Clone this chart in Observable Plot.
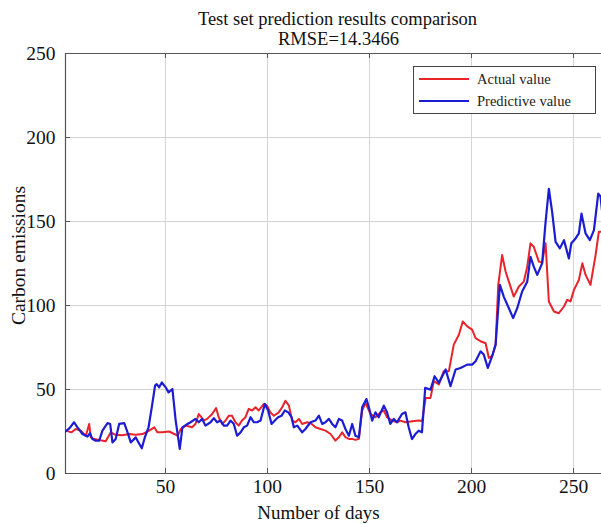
<!DOCTYPE html>
<html>
<head>
<meta charset="utf-8">
<script src="https://cdn.jsdelivr.net/npm/d3@7"></script>
<script src="https://cdn.jsdelivr.net/npm/@observablehq/plot@0.6"></script>
<style>
  html, body { margin: 0; padding: 0; background: #fff; }
  #wrap { position: relative; width: 601px; height: 524px; overflow: hidden; }
  #legend { position: absolute; left: 413px; top: 66px; width: 181px; height: 46px;
    border: 1px solid #444; background: #fff; font-family: "Liberation Serif", serif; font-size: 14.5px; color: #222; }
  .row { position: absolute; left: 5px; height: 18px; display: flex; align-items: center; }
  .sw { width: 50px; height: 0; border-top: 2px solid; margin-right: 8px; }
</style>
</head>
<body>
<div id="wrap"></div>
<script>
const chartTitle = "Test set prediction results comparison";
const chartSubtitle = "RMSE=14.3466";
const xLabel = "Number of days";
const yLabel = "Carbon emissions";
const seriesNames = ["Actual value", "Predictive value"];
const xTicks = [50, 100, 150, 200, 250];
const yTicks = [0, 50, 100, 150, 200, 250];

// Actual value: [day, value]
const actual = [[1,25.5],[4,24.5],[6,26.5],[8.5,25.5],[11,22.5],[12.6,29.5],[13.4,21.5],[15,20.5],[17.5,20],[20.7,19.2],[23.2,24.5],[25.6,23],[28.9,22.8],[32.2,23.5],[35.4,23],[38.7,23.5],[42,25.5],[44.5,27.5],[46,24.5],[48.5,24.5],[51.8,25],[54.3,23.5],[56,22.5],[57.5,26.5],[60,28.5],[63,27.5],[64.7,29.5],[66.3,35.4],[67.6,33.5],[68.7,31.5],[70.4,32.5],[72.9,35.4],[74.8,39],[76.1,33.5],[77.8,29.5],[79.4,31.5],[81,34.4],[82.6,34.4],[84.3,30.5],[85.9,28.5],[87.5,31.5],[89.2,33.5],[90.8,38.5],[92.5,37.5],[94.1,39.4],[95.7,37.5],[98.2,41.4],[99.8,40.4],[101.4,36.4],[103.1,34.4],[105.5,36.4],[107.2,39.4],[108.8,43.3],[110.5,40.4],[112.1,31.5],[113.7,30.5],[115.4,32.5],[117,29.5],[119.4,30.5],[121.1,30],[123.5,27.5],[126,26.5],[128.4,25.5],[130.9,23.5],[133.3,19.6],[135,21.6],[136.6,24.5],[138.2,21.6],[139.9,20.6],[141.5,20.6],[143.1,20],[144.8,20.6],[146.4,37.5],[148,42],[150.5,35.4],[152.9,33.5],[155.3,36.4],[157,37.5],[158.6,33.5],[161.1,31.5],[163.5,30.5],[165.1,31.5],[167.6,30.5],[170.1,31],[174,31.5],[175.8,31.2],[177.5,45],[179.9,45],[181.5,55],[184,53],[186.4,60.9],[188.9,60.9],[191.3,76.7],[193.8,82.6],[195.7,90.5],[197.9,87.6],[200.3,85.6],[202,80.6],[204.4,78.7],[206.9,77.5],[208.5,68.8],[210.1,69.8],[211.8,76.7],[213.1,112.3],[215,130],[216.7,120.2],[218.3,114.2],[220.7,105.3],[223.2,111.3],[225.6,114.2],[227.3,123.1],[228.9,137],[230.5,135],[233,126.1],[234.6,125.5],[236.3,137],[237.9,102.4],[240.4,96.4],[242.8,95.4],[245.3,99.4],[246.9,103.4],[248.5,102.4],[250.2,109.3],[252.6,115.2],[254.3,125.1],[255.9,118.2],[258.3,112.3],[260.8,130],[262.4,143.9],[264,144]];

// Predictive value: [day, value]
const predictive = [[1,25],[3,27],[5.2,30.5],[6.9,27.5],[9.3,23.5],[11.8,22],[13,24],[14.2,20.5],[15.8,19.5],[17.5,19.5],[19.1,25.5],[21.6,30],[22.9,29.5],[24,18.5],[25.6,20.5],[27.3,29.5],[29.8,30],[31.4,24.5],[33,18.5],[35.4,21.5],[36.3,19.5],[38.4,15],[40,22],[41.7,27.5],[43.3,39.5],[44.9,52.3],[45.7,53.2],[46.9,51.3],[48.2,54.2],[50.1,51.3],[51.5,48.3],[53.4,50.3],[55,31.5],[57,14.7],[58.3,27.5],[60.8,29.5],[62.3,30.5],[64.7,32.5],[66.3,30.5],[68,32.5],[69.6,28.5],[72.1,30.5],[73.7,33],[75.3,30.5],[77,31.5],[78.6,28.5],[80.2,28.5],[81.9,31.5],[83.5,29.5],[85.1,22.5],[86.8,24.5],[88.4,27.5],[90,28.5],[91.7,33.5],[93.3,30.5],[94.9,30.5],[96.6,31.5],[98.7,41.4],[100.3,37.5],[102,29.5],[103.6,31.5],[105.2,33.5],[106.9,34.4],[108.5,37.5],[110.2,36.4],[111.8,33.5],[112.9,27.5],[114.6,28.5],[117,24.5],[118.6,26.5],[121.1,30.5],[123.5,31.5],[125.2,34.4],[126.8,29.5],[128.4,30.5],[130.1,32.5],[131.7,29.5],[133.3,27.5],[135,32.5],[136.6,31.5],[138.2,26.5],[139.9,22.5],[141.5,29.5],[143.1,22.5],[144.8,21.6],[146.4,39.4],[148.5,44.3],[149.7,39.4],[151.3,31.5],[152.9,36.4],[154.5,33.5],[157,40.4],[158.6,36.4],[160.2,29.5],[161.9,32.5],[163.5,30.5],[165.9,35.4],[167.6,36.4],[169.2,27.5],[170.8,20.5],[172.5,23.5],[174.1,25.5],[175.7,24.5],[177.3,51],[179.9,49.9],[181.9,57.9],[184,54],[187.3,61.9],[189.7,52],[192.2,61.9],[194.6,62.8],[197.9,64.8],[200.3,64.8],[202,66.8],[204.4,72.7],[206,70.8],[208,62.8],[210.1,69.8],[211.8,76.7],[213.9,112.3],[215.8,105.3],[218.3,98.4],[220.4,92.5],[222.4,98.4],[224.8,108.3],[227.3,114.2],[228.9,129],[230.5,123.1],[232.2,118.2],[234.6,125.1],[236.3,149.8],[237.9,169.5],[239.5,155.7],[241.2,137.9],[243.3,134],[245.3,138.9],[247.7,128],[248.9,137],[251,139.9],[252.6,142.9],[253.9,154.7],[255.9,142.9],[258,138.9],[260,144.9],[262.1,166.6],[263.2,165],[264,156]];

const colors = ["#e8232b", "#1c1cd2"];
const serif = "'Liberation Serif', 'Times New Roman', serif";

const plot = Plot.plot({
  width: 601,
  height: 524,
  marginLeft: 65,
  marginRight: 0,
  marginTop: 53,
  marginBottom: 51,
  style: { fontFamily: serif, fontSize: "19px", color: "#111", background: "#fff" },
  x: { domain: [1, 263.7] },
  y: { domain: [0, 250] },
  marks: [
    Plot.gridX(xTicks, { stroke: "#d4d4d4", strokeOpacity: 1 }),
    Plot.gridY(yTicks.slice(1, -1), { stroke: "#d4d4d4", strokeOpacity: 1 }),
    Plot.ruleX([1], { stroke: "#555", strokeWidth: 1.2 }),
    Plot.ruleY([0, 250], { stroke: "#555", strokeWidth: 1.2 }),
    Plot.ruleX(xTicks, { y1: 0, y2: 3, stroke: "#555" }),
    Plot.ruleX(xTicks, { y1: 247, y2: 250, stroke: "#555" }),
    Plot.ruleY(yTicks, { x1: 1, x2: 3.5, stroke: "#555" }),
    Plot.axisX(xTicks, { tickSize: 0, tickPadding: 6, label: null, fontSize: 19.5 }),
    Plot.axisY(yTicks, { tickSize: 0, tickPadding: 10, label: null, fontSize: 19.5 }),
    Plot.line(actual, { x: d => d[0], y: d => d[1], stroke: colors[0], strokeWidth: 2, clip: true }),
    Plot.line(predictive, { x: d => d[0], y: d => d[1], stroke: colors[1], strokeWidth: 2.2, clip: true }),
    Plot.text([xLabel], { frameAnchor: "bottom", dx: -15, dy: 39, lineAnchor: "middle", fontSize: 19 }),
    Plot.text([yLabel], { frameAnchor: "left", textAnchor: "middle", dx: -47, dy: -8, rotate: -90, lineAnchor: "middle", fontSize: 19.5 }),
    Plot.text([chartTitle], { frameAnchor: "top", dx: 4, dy: -34, lineAnchor: "middle", fontSize: 18.5 }),
    Plot.text([chartSubtitle], { frameAnchor: "top", dx: 5, dy: -14, lineAnchor: "middle", fontSize: 18.5 })
  ]
});

const wrap = document.getElementById("wrap");
wrap.appendChild(plot);

const legend = document.createElement("div");
legend.id = "legend";
seriesNames.forEach((name, i) => {
  const row = document.createElement("div");
  row.className = "row";
  row.style.top = (3 + i * 22) + "px";
  const sw = document.createElement("span");
  sw.className = "sw";
  sw.style.borderTopColor = colors[i];
  const lab = document.createElement("span");
  lab.textContent = name;
  row.appendChild(sw);
  row.appendChild(lab);
  legend.appendChild(row);
});
wrap.appendChild(legend);
</script>
</body>
</html>
